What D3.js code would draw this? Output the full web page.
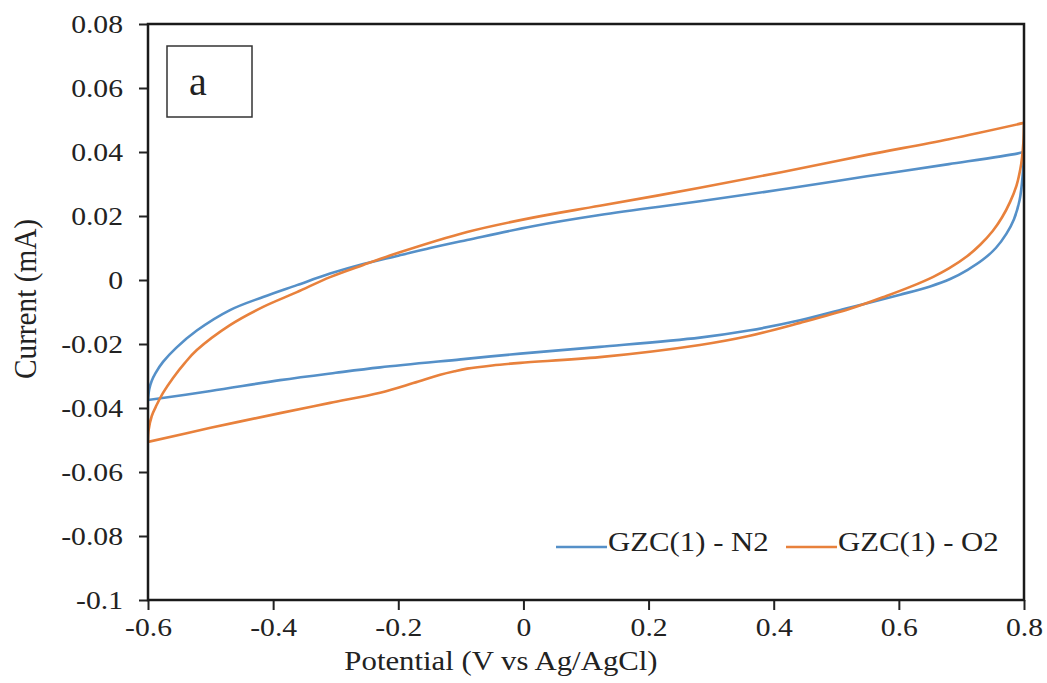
<!DOCTYPE html>
<html>
<head>
<meta charset="utf-8">
<script src="https://cdn.jsdelivr.net/npm/d3@7"></script>
<style>
  body { margin: 0; background: #fff; }
  text { font-family: "Liberation Serif", "Times New Roman", serif; fill: #222; }
</style>
</head>
<body>
<div id="chart"></div>
<script>
var svgWidth = 1047;
var svgHeight = 683;
var margin = { top: 24, right: 23, bottom: 83, left: 148 };
var width = svgWidth - margin.left - margin.right;
var height = svgHeight - margin.top - margin.bottom;

// tick values and labels
var xTicks = [-0.6, -0.4, -0.2, 0, 0.2, 0.4, 0.6, 0.8];
var xLabels = ["-0.6", "-0.4", "-0.2", "0", "0.2", "0.4", "0.6", "0.8"];
var yTicks = [0.08, 0.06, 0.04, 0.02, 0, -0.02, -0.04, -0.06, -0.08, -0.1];
var yLabels = ["0.08", "0.06", "0.04", "0.02", "0", "-0.02", "-0.04", "-0.06", "-0.08", "-0.1"];

var seriesNames = ["GZC(1) - N2", "GZC(1) - O2"];
var seriesColors = ["#5590c8", "#e8813c"];

// [potential V, current mA]
var n2Forward = [[-0.600,-0.0375],[-0.598,-0.0341],[-0.594,-0.0315],[-0.588,-0.0291],[-0.576,-0.0256],
  [-0.555,-0.0212],[-0.522,-0.0158],[-0.469,-0.0094],[-0.416,-0.0053],[-0.362,-0.0016],[-0.309,0.0020],
  [-0.256,0.0050],[-0.200,0.0076],[-0.149,0.0100],[-0.090,0.0125],[0.015,0.0168],[0.122,0.0203],
  [0.282,0.0246],[0.420,0.0285],[0.549,0.0324],[0.680,0.0362],[0.789,0.0395],[0.800,0.0400]];
var n2Reverse = [[0.800,0.0400],[0.798,0.0330],[0.793,0.0250],[0.784,0.0190],[0.772,0.0145],[0.755,0.0100],
  [0.734,0.0063],[0.710,0.0032],[0.682,0.0003],[0.650,-0.0020],[0.602,-0.0046],[0.522,-0.0086],
  [0.442,-0.0126],[0.360,-0.0158],[0.282,-0.0180],[0.122,-0.0209],[-0.005,-0.0230],[-0.100,-0.0248],
  [-0.229,-0.0273],[-0.300,-0.0290],[-0.389,-0.0313],[-0.500,-0.0347],[-0.600,-0.0375]];
var o2Forward = [[-0.600,-0.0506],[-0.599,-0.0469],[-0.594,-0.0425],[-0.586,-0.0390],[-0.576,-0.0353],
  [-0.560,-0.0306],[-0.541,-0.0259],[-0.522,-0.0219],[-0.469,-0.0141],[-0.416,-0.0084],[-0.362,-0.0038],
  [-0.309,0.0009],[-0.256,0.0047],[-0.200,0.0085],[-0.090,0.0150],[0.015,0.0195],[0.122,0.0232],
  [0.282,0.0288],[0.420,0.0340],[0.549,0.0391],[0.680,0.0440],[0.800,0.0491]];
var o2Reverse = [[0.800,0.0491],[0.799,0.0430],[0.797,0.0385],[0.794,0.0345],[0.788,0.0295],[0.778,0.0245],
  [0.765,0.0196],[0.750,0.0153],[0.730,0.0110],[0.709,0.0074],[0.680,0.0036],[0.655,0.0010],
  [0.620,-0.0020],[0.580,-0.0050],[0.522,-0.0090],[0.442,-0.0134],[0.360,-0.0175],[0.282,-0.0203],
  [0.122,-0.0241],[-0.005,-0.0259],[-0.050,-0.0267],[-0.090,-0.0277],[-0.110,-0.0285],[-0.133,-0.0296],
  [-0.176,-0.0322],[-0.229,-0.0352],[-0.309,-0.0384],[-0.389,-0.0416],[-0.500,-0.0462],[-0.600,-0.0506]];

var branches = [
  { pts: n2Forward, s: 0 }, { pts: n2Reverse, s: 0 },
  { pts: o2Forward, s: 1 }, { pts: o2Reverse, s: 1 }
];

// the picture is stretched sideways a little, so text is widened too
function stretch(sel, k) {
  sel.each(function() {
    var w = this.getComputedTextLength();
    d3.select(this).attr("textLength", w * k).attr("lengthAdjust", "spacingAndGlyphs");
  });
}

var svg = d3.select("#chart")
  .append("svg")
  .attr("width", svgWidth)
  .attr("height", svgHeight);

var chartGroup = svg.append("g")
  .attr("transform", `translate(${margin.left}, ${margin.top})`);

var xScale = d3.scaleLinear().domain([-0.6, 0.8]).range([0, width]);
var yScale = d3.scaleLinear().domain([-0.1, 0.08]).range([height, 0]);

chartGroup.append("clipPath").attr("id", "plotclip")
  .append("rect").attr("width", width).attr("height", height);

var line = d3.line()
  .x(d => xScale(d[0]))
  .y(d => yScale(d[1]))
  .curve(d3.curveCatmullRom.alpha(0.5));

chartGroup.append("g").attr("clip-path", "url(#plotclip)")
  .selectAll("path")
  .data(branches)
  .enter()
  .append("path")
  .attr("d", d => line(d.pts))
  .attr("fill", "none")
  .attr("stroke", d => seriesColors[d.s])
  .attr("stroke-width", 2.6)
  .attr("stroke-linejoin", "round");

// axes
var bottomAxis = d3.axisBottom(xScale).tickValues(xTicks)
  .tickFormat((d, i) => xLabels[i]).tickSize(10).tickPadding(8);
var leftAxis = d3.axisLeft(yScale).tickValues(yTicks)
  .tickFormat((d, i) => yLabels[i]).tickSize(9).tickPadding(16);

var xg = chartGroup.append("g")
  .attr("transform", `translate(0, ${height})`)
  .call(bottomAxis);
var yg = chartGroup.append("g").call(leftAxis);

[xg, yg].forEach(function(g) {
  g.select(".domain").remove();
  g.selectAll(".tick line").attr("stroke", "#222").attr("stroke-width", 2);
  g.selectAll(".tick text")
    .attr("font-family", "Liberation Serif, Times New Roman, serif")
    .attr("font-size", 26)
    .attr("fill", "#222")
    .call(stretch, 1.14);
});

// plot frame
chartGroup.append("rect")
  .attr("width", width)
  .attr("height", height)
  .attr("fill", "none")
  .attr("stroke", "#1a1a1a")
  .attr("stroke-width", 2.5);

// axis titles
svg.append("text")
  .attr("x", 501)
  .attr("y", 670)
  .attr("text-anchor", "middle")
  .style("font-size", "27px")
  .text("Potential (V vs Ag/AgCl)")
  .call(stretch, 1.14);

svg.append("text")
  .attr("transform", "translate(36, 299) scale(1.14, 1) rotate(-90)")
  .attr("text-anchor", "middle")
  .attr("textLength", 160)
  .attr("lengthAdjust", "spacingAndGlyphs")
  .style("font-size", "27px")
  .text("Current (mA)");

// panel label
svg.append("rect")
  .attr("x", 167).attr("y", 46)
  .attr("width", 85).attr("height", 71)
  .attr("fill", "#fff")
  .attr("stroke", "#333")
  .attr("stroke-width", 1.5);
svg.append("text")
  .attr("x", 189).attr("y", 95)
  .style("font-size", "40px")
  .text("a");

// legend
var legendX = [556, 786];
var legend = svg.selectAll(".legend")
  .data(seriesNames)
  .enter()
  .append("g")
  .attr("class", "legend")
  .attr("transform", (d, i) => `translate(${legendX[i]}, 547)`);

legend.append("line")
  .attr("x1", 0).attr("x2", 51)
  .attr("stroke", (d, i) => seriesColors[i])
  .attr("stroke-width", 2.6);

legend.append("text")
  .attr("x", 52)
  .attr("y", 4)
  .style("font-size", "27px")
  .text(d => d)
  .call(stretch, 1.14);
</script>
</body>
</html>
